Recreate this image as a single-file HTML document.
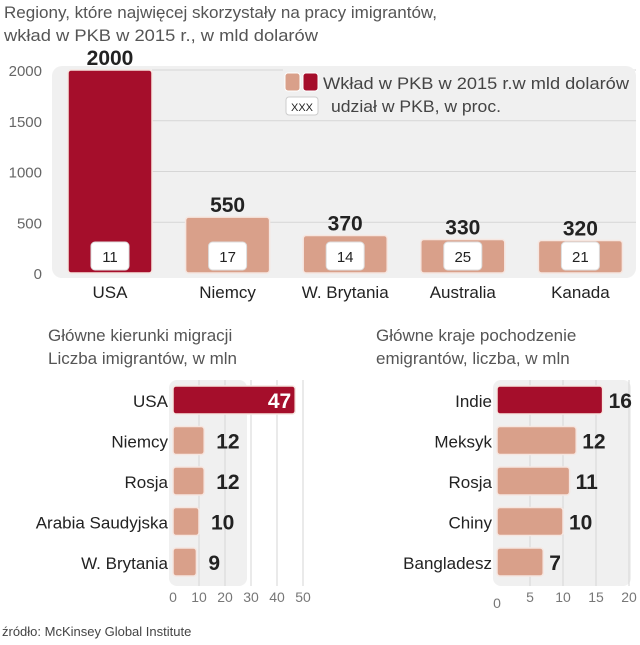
<!DOCTYPE html>
<html><head><meta charset="utf-8"><style>
body{margin:0;background:#fff;width:640px;height:640px;overflow:hidden}
svg text{font-family:"Liberation Sans Narrow","Liberation Sans",sans-serif}
</style></head><body>
<svg id="c" width="640" height="640" xmlns="http://www.w3.org/2000/svg">
<text x="4" y="18" font-size="17" fill="#555" textLength="433" lengthAdjust="spacingAndGlyphs">Regiony, które najwięcej skorzystały na pracy imigrantów,</text>
<text x="4" y="41" font-size="17" fill="#555" textLength="314" lengthAdjust="spacingAndGlyphs">wkład w PKB w 2015 r., w  mld dolarów</text>
<rect x="52" y="66" width="584" height="212" rx="10" fill="#f0f0f0"/>
<g id="top"></g>
<rect x="283" y="69" width="352" height="50" fill="#f0f0f0"/>
<rect x="285" y="73" width="15" height="18" rx="3" fill="#d9a08a" stroke="#fff"/>
<rect x="303" y="73" width="15" height="18" rx="3" fill="#a50e2b" stroke="#fff"/>
<text x="323" y="89" font-size="17" fill="#444" textLength="306" lengthAdjust="spacingAndGlyphs">Wkład w PKB w 2015 r.w  mld dolarów</text>
<rect x="286" y="97" width="32" height="18" rx="3" fill="#fff" stroke="#ccc"/>
<text x="302" y="111" font-size="11" fill="#222" text-anchor="middle">XXX</text>
<text x="331" y="112" font-size="17" fill="#444" textLength="170" lengthAdjust="spacingAndGlyphs">udział w PKB, w proc.</text>
<text x="48" y="341" font-size="17" fill="#555">Główne kierunki migracji</text>
<text x="48" y="364" font-size="17" fill="#555">Liczba imigrantów, w mln</text>
<text x="376" y="341" font-size="17" fill="#555">Główne kraje pochodzenie</text>
<text x="376" y="364" font-size="17" fill="#555">emigrantów, liczba, w mln</text>
<g id="left"></g><g id="right"></g>
<text x="2" y="636" font-size="13" fill="#444">źródło: McKinsey Global Institute</text>
</svg>
<script>
const topCats=["USA","Niemcy","W. Brytania","Australia","Kanada"];
const topVals=[2000,550,370,330,320];
const topShares=[11,17,14,25,21];
const topTicks=[0,500,1000,1500,2000];
const leftCats=["USA","Niemcy","Rosja","Arabia Saudyjska","W. Brytania"];
const leftVals=[47,12,12,10,9];
const leftTicks=[0,10,20,30,40,50];
const rightCats=["Indie","Meksyk","Rosja","Chiny","Bangladesz"];
const rightVals=[16,12,11,10,7];
const rightTicks=[0,5,10,15,20];
const NS="http://www.w3.org/2000/svg";
function mk(p,t,a,txt){const e=document.createElementNS(NS,t);for(const k in a)e.setAttribute(k,a[k]);if(txt!=null)e.textContent=txt;p.appendChild(e);return e;}
const DARK="#a50e2b",LIGHT="#d9a08a";
const gT=document.getElementById('top');
const yT=v=>273-v*0.1015;
const xT=i=>68+i*117.6;
topTicks.forEach(t=>{
 if(t>0){const l=mk(gT,'line',{x1:152,x2:636,y1:yT(t),y2:yT(t),stroke:"#d6d6d6"});
 }
 const tx=mk(gT,'text',{x:42,y:yT(t)+6,'font-size':15,fill:"#666",'text-anchor':'end'},t);
 
});
topVals.forEach((v,i)=>{
 const x=xT(i),w=84,y=yT(v);
 const r=mk(gT,'rect',{x:x,y:y,width:w,height:273-y,rx:3,fill:i==0?DARK:LIGHT,stroke:"#f6e6e0","stroke-width":1.5});
 
 const vl=mk(gT,'text',{x:x+w/2,y:y-5,'font-size':21,'font-weight':'bold',fill:"#222",'text-anchor':'middle'},v);
 
 const b=mk(gT,'rect',{x:x+w/2-19,y:242,width:38,height:28,rx:4,fill:"#fff",stroke:"#ddd"});
 
 const bt=mk(gT,'text',{x:x+w/2,y:262,'font-size':15,fill:"#222",'text-anchor':'middle'},topShares[i]);
 
 const cl=mk(gT,'text',{x:x+w/2,y:298,'font-size':17,fill:"#222",'text-anchor':'middle'},topCats[i]);
 
});
function hbar(id,cats,vals,ticks,x0,scale,bgW,valInside){
 const g=document.getElementById(id);
 const bg=mk(g,'rect',{x:x0-4,y:380,width:bgW,height:206,rx:8,fill:"#f0f0f0"});
 
 ticks.forEach(t=>{
  if(t>0){const l=mk(g,'line',{x1:x0+t*scale,x2:x0+t*scale,y1:380,y2:586,stroke:"#d6d6d6"});
  }
  const tx=mk(g,'text',{x:x0+t*scale,y:id=='right'&&t==0?608:602,'font-size':14,fill:"#777",'text-anchor':'middle'},t);
  
 });
 vals.forEach((v,i)=>{
  const y=386+i*40.5,w=v*scale;
  const r=mk(g,'rect',{x:x0,y:y,width:w,height:28,rx:3,fill:i==0?DARK:LIGHT,stroke:"#f6e6e0","stroke-width":1.5});
  
  const c=mk(g,'text',{x:x0-5,y:y+21,'font-size':17,fill:"#222",'text-anchor':'end'},cats[i]);
  
  const inside=valInside&&i==0;
  const vl=mk(g,'text',{x:inside?x0+w-4:x0+w+(id=='left'?12:6),y:y+22,'font-size':21,'font-weight':'bold',fill:inside?"#fff":"#222",'text-anchor':inside?'end':'start'},v);
  
 });
}
hbar('left',leftCats,leftVals,leftTicks,173,2.6,78,true);
hbar('right',rightCats,rightVals,rightTicks,497,6.6,138,false);
</script>
</body></html>
